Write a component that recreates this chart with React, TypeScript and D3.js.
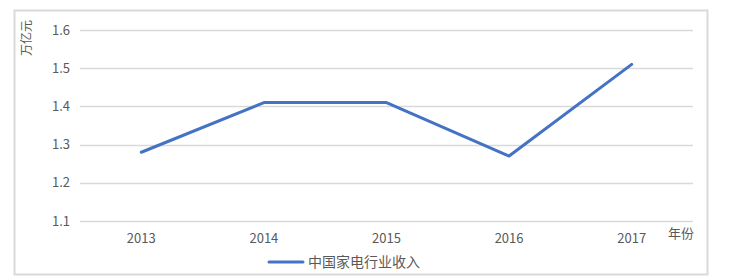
import React, { useEffect, useRef } from "react";
import * as d3 from "d3";

const years = ["2013", "2014", "2015", "2016", "2017"];
const revenue = [1.28, 1.41, 1.41, 1.27, 1.51];
const yTicks = [1.1, 1.2, 1.3, 1.4, 1.5, 1.6];
const seriesName = "中国家电行业收入";
const yUnit = "万亿元";
const xUnit = "年份";

const W = 738;
const H = 279;
const FONT = "'Noto Sans CJK SC', 'Noto Sans', sans-serif";
const TEXT = "#595959";

export default function App() {
  const ref = useRef<SVGSVGElement>(null);

  useEffect(() => {
    const svg = d3.select(ref.current);
    svg.selectAll("*").remove();

    const left = 80, right = 693, top = 30, bottom = 221;
    const x = d3.scaleBand().domain(years).range([left, right]);
    const y = d3.scaleLinear().domain([1.1, 1.6]).range([bottom, top]);

    svg.append("rect")
      .attr("x", 14.5).attr("y", 10.5)
      .attr("width", 693).attr("height", 264)
      .attr("fill", "#fff").attr("stroke", "#d9d9d9").attr("stroke-width", 2);

    svg.append("g").selectAll("line").data(yTicks).join("line")
      .attr("x1", left).attr("x2", right)
      .attr("y1", (d) => Math.round(y(d)) + 0.5).attr("y2", (d) => Math.round(y(d)) + 0.5)
      .attr("stroke", "#d9d9d9").attr("stroke-width", 1.5);

    svg.append("g").selectAll("text").data(yTicks).join("text")
      .attr("x", 70).attr("y", (d) => y(d))
      .attr("dy", "0.35em").attr("text-anchor", "end")
      .attr("font-family", FONT).attr("font-size", 13).attr("fill", TEXT)
      .text((d) => d.toFixed(1));

    svg.append("g").selectAll("text").data(years).join("text")
      .attr("x", (d) => (x(d) as number) + x.bandwidth() / 2).attr("y", 243)
      .attr("text-anchor", "middle")
      .attr("font-family", FONT).attr("font-size", 13).attr("fill", TEXT)
      .text((d) => d);

    const line = d3.line<number>()
      .x((_, i) => (x(years[i]) as number) + x.bandwidth() / 2)
      .y((d) => y(d));

    svg.append("path").datum(revenue)
      .attr("d", line)
      .attr("fill", "none").attr("stroke", "#4472C4")
      .attr("stroke-width", 3).attr("stroke-linejoin", "round").attr("stroke-linecap", "round");

    // vertical unit label, rotated to read bottom-to-top
    svg.append("text")
      .attr("transform", "translate(31,38) rotate(-90)")
      .attr("text-anchor", "middle")
      .attr("font-family", FONT).attr("font-size", 12).attr("fill", TEXT)
      .text(yUnit);

    svg.append("text")
      .attr("x", 668).attr("y", 238)
      .attr("font-family", FONT).attr("font-size", 13).attr("fill", TEXT)
      .text(xUnit);

    svg.append("line")
      .attr("x1", 269).attr("x2", 303).attr("y1", 262).attr("y2", 262)
      .attr("stroke", "#4472C4").attr("stroke-width", 3).attr("stroke-linecap", "round");
    svg.append("text")
      .attr("x", 308).attr("y", 267)
      .attr("font-family", FONT).attr("font-size", 14).attr("fill", TEXT)
      .text(seriesName);
  }, []);

  return (
    <svg
      ref={ref}
      width={W}
      height={H}
      style={{ position: "absolute", left: 0, top: 0, background: "#fff" }}
    />
  );
}
